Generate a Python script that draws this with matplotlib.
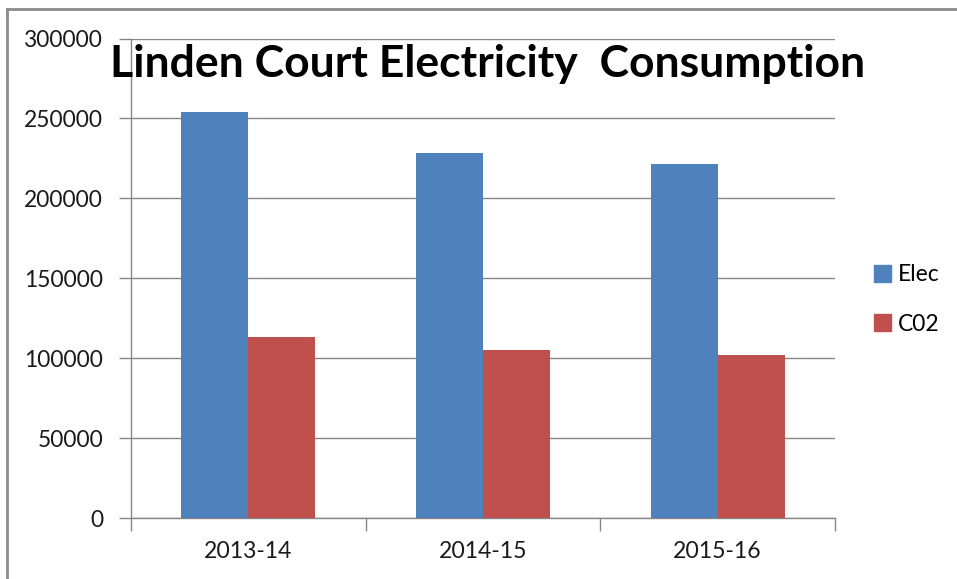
import matplotlib
matplotlib.use("Agg")
import matplotlib.pyplot as plt
from matplotlib.lines import Line2D
import numpy as np

categories = ["2013-14", "2014-15", "2015-16"]
elec = [254000, 228500, 221500]
co2 = [113300, 105200, 102000]
series_names = ["Elec", "C02"]
yticks = [0, 50000, 100000, 150000, 200000, 250000, 300000]

blue = "#4F81BD"
red = "#C0504D"
grid_c = "#868686"

plt.rcParams['font.family'] = ['Lato', 'DejaVu Sans']

fig = plt.figure(figsize=(9.57, 5.79), dpi=100)
ax = fig.add_axes([131/957, 1-518.3/579, (835-131)/957, (518.3-38.5)/579])

x = np.arange(len(categories))
w = 1/3.5
ax.bar(x - w/2, elec, w, color=blue, label=series_names[0], zorder=3)
ax.bar(x + w/2, co2, w, color=red, label=series_names[1], zorder=3)

ax.set_xlim(-0.5, 2.5)
ax.set_ylim(0, 300000)
ax.set_yticks(yticks)
ax.set_yticklabels([str(v) for v in yticks], fontsize=16.4, color="#1a1a1a")
ax.yaxis.grid(True, color=grid_c, linewidth=1.0, zorder=0)
ax.set_axisbelow(True)

ax.set_xticks([-0.5, 0.5, 1.5, 2.5])
ax.set_xticklabels([])
ax.set_xticks(x, minor=True)
ax.set_xticklabels(categories, minor=True, fontsize=16.6, color="#1a1a1a")
ax.tick_params(axis='x', which='minor', length=0, pad=16)
ax.tick_params(axis='x', which='major', length=9, color=grid_c, width=1)
ax.tick_params(axis='y', length=9, color=grid_c, width=1, pad=11)

for s in ["top", "right"]:
    ax.spines[s].set_visible(False)
for s in ["left", "bottom"]:
    ax.spines[s].set_color(grid_c)
    ax.spines[s].set_linewidth(1.0)

fig.text(487.5/957, 1-63.5/579, "Linden Court Electricity  Consumption", ha="center", va="center",
         fontsize=32, fontweight="bold", color="black")

handles = [plt.Rectangle((0, 0), 1, 1, color=blue), plt.Rectangle((0, 0), 1, 1, color=red)]
fig.legend(handles, series_names, loc="center left", bbox_to_anchor=(858/957, 1-299.5/579),
           frameon=False, fontsize=16.4, handlelength=0.75, handleheight=0.75,
           handletextpad=0.3, labelspacing=1.25, borderpad=0.2)

# outer border (left and top)
fig.add_artist(Line2D([7.5/957, 7.5/957], [0, 1-9/579], transform=fig.transFigure, color="#8c8c8c", lw=2))
fig.add_artist(Line2D([7.5/957, 1], [1-9/579, 1-9/579], transform=fig.transFigure, color="#8c8c8c", lw=2))

fig.savefig("out.png", dpi=100)
